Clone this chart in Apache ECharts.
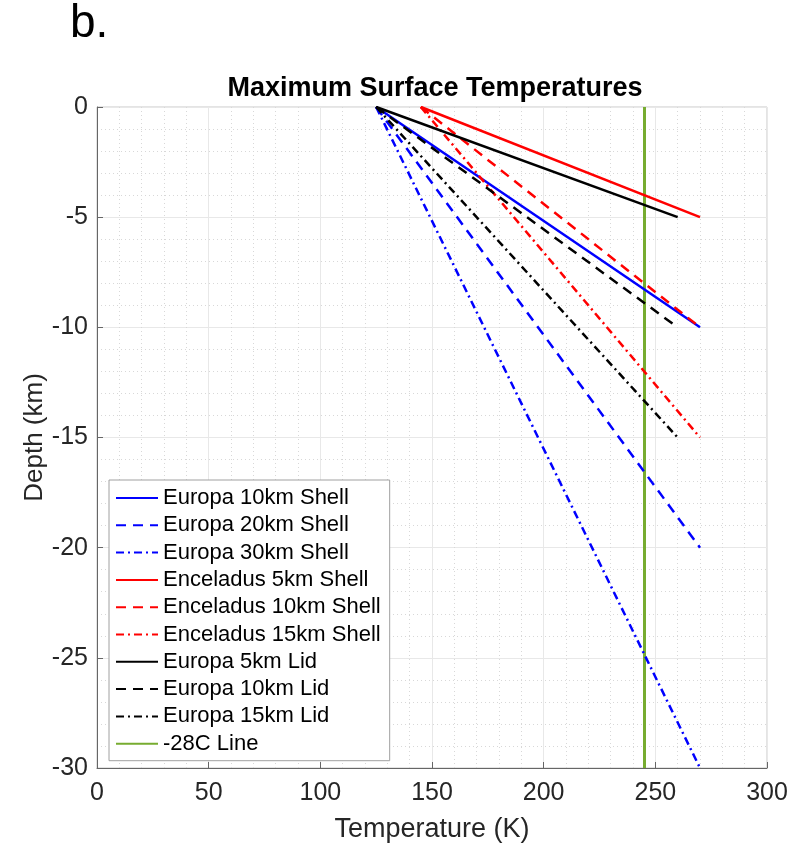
<!DOCTYPE html>
<html><head><meta charset="utf-8">
<script src="https://cdn.jsdelivr.net/npm/echarts@6/dist/echarts.min.js"></script>
<style>html,body{margin:0;padding:0;background:#fff}#c{width:798px;height:843px}</style>
</head><body><div id="c"></div>
<script>
// Data
const seriesNames = ["Europa 10km Shell","Europa 20km Shell","Europa 30km Shell","Enceladus 5km Shell","Enceladus 10km Shell","Enceladus 15km Shell","Europa 5km Lid","Europa 10km Lid","Europa 15km Lid","-28C Line"];
const europa10Shell = [[125,0],[270,-10]];
const europa20Shell = [[125,0],[270,-20]];
const europa30Shell = [[125,0],[270,-30]];
const enceladus5Shell = [[145,0],[270,-5]];
const enceladus10Shell = [[145,0],[270,-10]];
const enceladus15Shell = [[145,0],[270,-15]];
const europa5Lid = [[125,0],[260,-5]];
const europa10Lid = [[125,0],[260,-10]];
const europa15Lid = [[125,0],[260,-15]];
const line28C = [[245.15,0],[245.15,-30]];
const xTicks = [0,50,100,150,200,250,300];
const yTicks = [0,-5,-10,-15,-20,-25,-30];

const FONT = "Liberation Sans";
const solid = 'solid', dashed = [10,7], dashdot = [8,4,2,4];
const defs = [
  [europa10Shell,'#0000ff',solid],
  [europa20Shell,'#0000ff',dashed],
  [europa30Shell,'#0000ff',dashdot],
  [enceladus5Shell,'#ff0000',solid],
  [enceladus10Shell,'#ff0000',dashed],
  [enceladus15Shell,'#ff0000',dashdot],
  [europa5Lid,'#000000',solid],
  [europa10Lid,'#000000',dashed],
  [europa15Lid,'#000000',dashdot],
  [line28C,'#77AC30',solid]
];
const series = defs.map((d,i)=>({
  name: seriesNames[i], type:'line', data:d[0], symbol:'none', z: i===9?1:2,
  lineStyle:{color:d[1], width:i===9?3:2.5, type:d[2]},
  itemStyle:{color:d[1]}, animation:false
}));

const chart = echarts.init(document.getElementById('c'), null, {renderer:'canvas'});
chart.setOption({
  animation:false,
  title:{text:'Maximum Surface Temperatures', left:430, top:70, textAlign:'center',
    textStyle:{fontFamily:FONT, fontSize:27, fontWeight:'bold', color:'#000'}},
  graphic:[{type:'text', left:70, top:1, style:{text:'b.', font:'46px "Liberation Sans"', fill:'#000'}}],
  grid:{left:97, right:31, top:107, bottom:75, outerBoundsMode:'none', containLabel:false,
    show:true, borderColor:'#c8c8c8', borderWidth:1, backgroundColor:'#fff'},
  legend:{orient:'vertical', left:109, top:480, data:seriesNames, backgroundColor:'#fff',
    borderColor:'#a0a0a0', borderWidth:1, padding:[7,9,6,6], itemWidth:42, itemHeight:14, itemGap:5.3,
    itemStyle:{opacity:0},
    textStyle:{fontFamily:FONT, fontSize:22, color:'#000', lineHeight:22}},
  xAxis:{type:'value', min:0, max:300, interval:50,
    name:'Temperature (K)', nameLocation:'middle', nameGap:48, nameMoveOverlap:false,
    nameTextStyle:{fontFamily:FONT, fontSize:27, color:'#262626'},
    axisLine:{show:true, onZero:false, lineStyle:{color:'#666', width:1}},
    axisTick:{show:true, inside:true, length:6, lineStyle:{color:'#666'}},
    axisLabel:{fontFamily:FONT, fontSize:25, color:'#262626', margin:13},
    splitLine:{show:true, lineStyle:{color:'#e8e8e8', width:1}},
    minorSplitLine:{show:true, lineStyle:{color:'#d8d8d8', width:1, type:[1,3]}},
    minorTick:{show:false, splitNumber:5}},
  yAxis:{type:'value', min:-30, max:0, interval:5,
    name:'Depth (km)', nameLocation:'middle', nameGap:49, nameRotate:90, nameMoveOverlap:false,
    nameTextStyle:{fontFamily:FONT, fontSize:26, color:'#262626'},
    axisLine:{show:true, onZero:false, lineStyle:{color:'#666', width:1}},
    axisTick:{show:true, inside:true, length:6, lineStyle:{color:'#666'}},
    axisLabel:{fontFamily:FONT, fontSize:25, color:'#262626', margin:9},
    splitLine:{show:true, lineStyle:{color:'#e8e8e8', width:1}},
    minorSplitLine:{show:true, lineStyle:{color:'#d8d8d8', width:1, type:[1,3]}},
    minorTick:{show:false, splitNumber:5}},
  series: series
});
</script></body></html>
